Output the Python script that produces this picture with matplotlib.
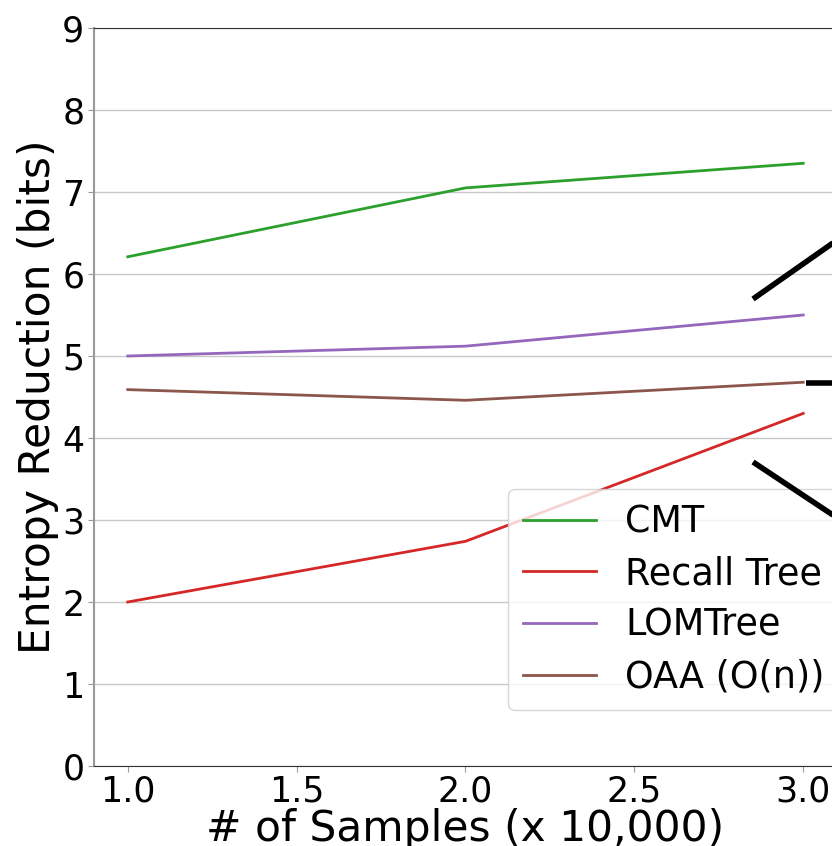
import matplotlib
matplotlib.use("Agg")
import matplotlib.pyplot as plt
from matplotlib.lines import Line2D

samples = [1.0, 2.0, 3.0]
cmt = [6.21, 7.05, 7.35]
recall_tree = [2.0, 2.74, 4.30]
lomtree = [5.0, 5.12, 5.50]
oaa = [4.59, 4.46, 4.68]

series = [
    ("CMT", cmt, "#2ca02c"),
    ("Recall Tree", recall_tree, "#d62728"),
    ("LOMTree", lomtree, "#9467bd"),
    ("OAA (O(n))", oaa, "#8c564b"),
]

W, H = 832, 846
fig = plt.figure(figsize=(W / 100, H / 100), dpi=100)
ax = fig.add_axes([94 / W, 1 - 766 / H, (837 - 94) / W, (766 - 28) / H])

for name, vals, color in series:
    ax.plot(samples, vals, color=color, lw=2, label=name)

ax.set_xlim(0.9, 3.1)
ax.set_ylim(0, 9)
ax.set_xticks([1.0, 1.5, 2.0, 2.5, 3.0])
ax.set_yticks(range(0, 10))
ax.yaxis.grid(True, color="#c8c8c8", lw=1)
ax.set_axisbelow(True)

ax.tick_params(axis="both", labelsize=25, length=4, color="#999999")
ax.tick_params(axis="x", pad=2)
ax.tick_params(axis="y", pad=3)
ax.spines["left"].set_color("#999999")
ax.spines["left"].set_linewidth(1.5)
ax.spines["bottom"].set_color("#333333")
ax.spines["top"].set_color("#333333")

ax.set_xlabel("# of Samples (x 10,000)", fontsize=30.5, labelpad=0)
ax.set_ylabel("Entropy Reduction (bits)", fontsize=30.5, labelpad=2)

leg = ax.legend(
    loc="upper left",
    bbox_to_anchor=((508 - 94) / (837 - 94), (766 - 489) / (766 - 28)),
    fontsize=26.3,
    frameon=True,
    fancybox=True,
    framealpha=0.8,
    edgecolor="#cccccc",
    handlelength=2.0,
    borderaxespad=0,
    labelspacing=0.4,
)

# connector strokes leading to the zoomed region on the right
def fig_line(x0, y0, x1, y1):
    fig.add_artist(Line2D([x0 / W, x1 / W], [1 - y0 / H, 1 - y1 / H],
                          color="black", lw=4, solid_capstyle="butt",
                          transform=fig.transFigure))

fig_line(753, 299, 860, 224)
fig_line(806, 383, 860, 383)
fig_line(753, 462, 860, 533)

fig.savefig("out.png", dpi=100)
